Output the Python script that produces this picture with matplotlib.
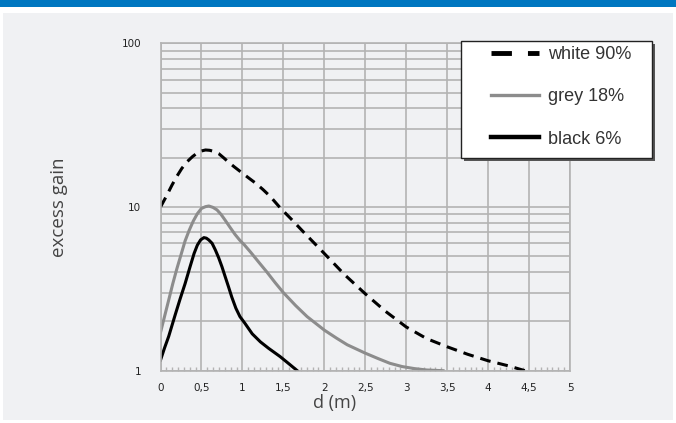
import numpy as np
import matplotlib
matplotlib.use('Agg')
import matplotlib.pyplot as plt
from matplotlib.patches import Rectangle
from matplotlib.ticker import FixedLocator, FixedFormatter, NullFormatter

# white 90%
x_white = [0, 0.07, 0.14, 0.2, 0.26, 0.32, 0.39, 0.45, 0.5, 0.55, 0.6, 0.66, 0.71, 0.77, 0.83, 0.9, 1.0, 1.08, 1.16, 1.25, 1.34, 1.46,
           1.6, 1.75, 2.0, 2.25, 2.5, 2.75, 3.0, 3.25, 3.5, 3.75, 4.0, 4.25, 4.45]
y_white = [10, 11.6, 13.6, 15.4, 17.2, 18.8, 20.3, 21.4, 22.0, 22.3, 22.2, 21.8, 21.2, 20.0, 18.8, 17.6, 16.1, 15.0, 14.0, 12.8, 11.6, 9.9,
           8.4, 7.0, 5.2, 3.85, 2.95, 2.3, 1.85, 1.57, 1.4, 1.26, 1.15, 1.07, 1.0]

# grey 18%
x_grey = [0, 0.05, 0.1, 0.15, 0.2, 0.25, 0.3, 0.35, 0.4, 0.45, 0.5, 0.55, 0.59, 0.64, 0.69, 0.74, 0.79, 0.85, 0.91, 0.97, 1.02,
          1.1, 1.2, 1.3, 1.4, 1.5, 1.65, 1.79, 2.0, 2.15, 2.28, 2.5, 2.65, 2.8, 2.95, 3.1, 3.25, 3.45]
y_grey = [1.71, 2.15, 2.7, 3.4, 4.2, 5.1, 6.2, 7.2, 8.2, 9.1, 9.8, 10.05, 10.14, 9.95, 9.6, 9.0, 8.3, 7.5, 6.8, 6.25, 5.9,
          5.3, 4.6, 4.0, 3.45, 3.0, 2.5, 2.14, 1.77, 1.58, 1.44, 1.28, 1.19, 1.11, 1.06, 1.03, 1.01, 1.0]

# black 6%
x_black = [0, 0.05, 0.1, 0.18, 0.24, 0.3, 0.36, 0.41, 0.45, 0.49, 0.53, 0.56, 0.59, 0.63, 0.67, 0.71, 0.75, 0.79, 0.83, 0.87, 0.92,
           0.97, 1.03, 1.12, 1.22, 1.32, 1.46, 1.57, 1.67]
y_black = [1.16, 1.38, 1.62, 2.2, 2.75, 3.4, 4.3, 5.2, 5.85, 6.3, 6.5, 6.45, 6.29, 6.0, 5.46, 4.9, 4.32, 3.75, 3.26, 2.82, 2.41,
           2.14, 1.95, 1.68, 1.5, 1.37, 1.22, 1.1, 1.0]

labels = ['white 90%', 'grey 18%', 'black 6%']
x_ticks = [0, 0.5, 1, 1.5, 2, 2.5, 3, 3.5, 4, 4.5, 5]
x_ticklabels = ['0', '0,5', '1', '1,5', '2', '2,5', '3', '3,5', '4', '4,5', '5']
y_ticks = [1, 10, 100]

W, H = 676, 423
fig = plt.figure(figsize=(6.76, 4.23), dpi=100)
fig.patch.set_facecolor('white')

def fig_rect(x0, y0, x1, y1, **kw):
    # rectangle given in pixels from the top-left corner
    r = Rectangle((x0 / W, 1 - y1 / H), (x1 - x0) / W, (y1 - y0) / H,
                  transform=fig.transFigure, **kw)
    fig.patches.append(r)
    return r

# blue band on top and light grey panel
fig_rect(0, 0, W, 7, facecolor='#0077c0', edgecolor='none', zorder=-10)
fig_rect(3, 13, 673, 420, facecolor='#f0f1f3', edgecolor='none', zorder=-10)

ax = fig.add_axes([160.5 / W, 52.3 / H, 409.5 / W, 327.4 / H])
ax.set_facecolor('none')
ax.set_yscale('log')
ax.set_xlim(0, 5)
ax.set_ylim(1, 100)

gc = '#b3b3b3'
ax.xaxis.set_major_locator(FixedLocator(x_ticks))
ax.xaxis.set_major_formatter(FixedFormatter(x_ticklabels))
ax.xaxis.set_minor_locator(FixedLocator(np.arange(0, 5.001, 0.5 / 7)))
ax.yaxis.set_major_locator(FixedLocator(y_ticks))
ax.yaxis.set_major_formatter(FixedFormatter(['1', '10', '100']))
ax.yaxis.set_minor_formatter(NullFormatter())
ax.grid(True, which='major', axis='x', color=gc, lw=1.2)
ax.grid(True, which='both', axis='y', color=gc, lw=1.2)
ax.tick_params(axis='x', which='major', length=0, pad=9, labelsize=7.5, labelcolor='#222222')
ax.tick_params(axis='x', which='minor', direction='in', length=3, color=gc, width=1)
ax.tick_params(axis='y', which='both', length=0, pad=14, labelsize=7.5, labelcolor='#222222')
for s in ax.spines.values():
    s.set_color(gc)
    s.set_linewidth(1.2)

l1, = ax.plot(x_white, y_white, color='black', lw=2.2, dashes=(3.5, 2.3), label=labels[0])
l2, = ax.plot(x_grey, y_grey, color='#8c8c8c', lw=2.2, label=labels[1])
l3, = ax.plot(x_black, y_black, color='black', lw=2.2, label=labels[2])

ax.set_xlabel('d (m)', fontsize=13, color='#444444', labelpad=-1, family='Open Sans')
ax.xaxis.set_label_coords((335 - 160.5) / 409.5, -0.072)
ax.set_ylabel('excess gain', fontsize=13.5, color='#444444', family='Open Sans')
ax.yaxis.set_label_coords((68 - 160.5) / 409.5, 0.5)

# legend box with shadow
fig_rect(463.5, 44, 655, 161, facecolor='#555555', edgecolor='none', zorder=4)
fig_rect(460.7, 41, 652.3, 158.3, facecolor='white', edgecolor='#222222', lw=1.0, zorder=5)

h1, = ax.plot([], [], color='black', lw=3.5, dashes=(4.2, 3.3))
h2, = ax.plot([], [], color='#8c8c8c', lw=2.4)
h3, = ax.plot([], [], color='black', lw=3.2)
leg = fig.legend(handles=[h1, h2, h3], labels=labels, loc='upper left',
                 bbox_to_anchor=(491 / W, 1 - 46 / H), frameon=False,
                 prop={'family': 'Liberation Sans', 'size': 13},
                 labelspacing=1.4, handlelength=2.65, handletextpad=0.5,
                 borderpad=0, borderaxespad=0)
leg.set_zorder(6)
for t in leg.get_texts():
    t.set_color('#333333')

fig.savefig('out.png', dpi=100, facecolor=fig.get_facecolor())
